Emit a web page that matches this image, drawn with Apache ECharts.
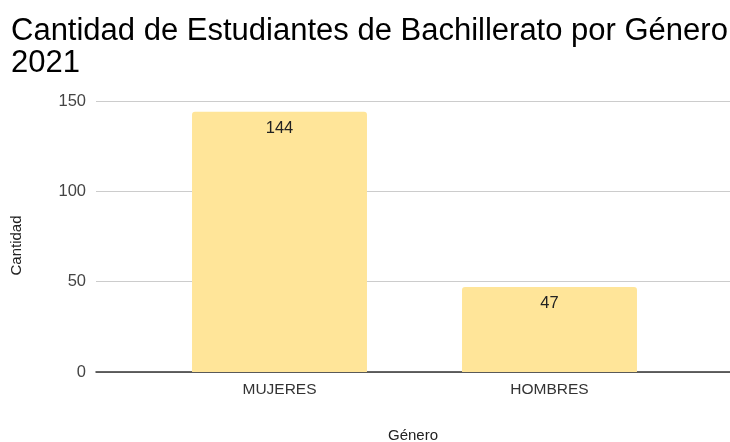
<!DOCTYPE html>
<html>
<head>
<meta charset="utf-8">
<script src="https://cdn.jsdelivr.net/npm/echarts@6/dist/echarts.min.js"></script>
<style>
  html, body { margin: 0; padding: 0; background: #fff; }
  #chart { width: 730px; height: 442px; }
</style>
</head>
<body>
<div id="chart"></div>
<script>
// data
var categories = ['MUJERES', 'HOMBRES'];
var cantidad = [144, 47];
var yTicks = [0, 50, 100, 150];

var chart = echarts.init(document.getElementById('chart'));

var font = 'Arial, "Liberation Sans", sans-serif';

var option = {
    animation: false,
    textStyle: { fontFamily: font },
    title: {
        text: 'Cantidad de Estudiantes de Bachillerato por Género\n2021',
        left: 6,
        top: 10,
        textStyle: {
            fontSize: 31,
            fontWeight: 'normal',
            color: '#000',
            lineHeight: 32,
            fontFamily: font
        }
    },
    grid: [
        // grid lines + axis line, full width
        { left: 96, right: 0, top: 101, bottom: 70, outerBoundsMode: 'none' },
        // bars
        { left: 144.5, right: 45.5, top: 101, bottom: 70, outerBoundsMode: 'none' }
    ],
    xAxis: [{
        gridIndex: 0,
        type: 'category',
        data: categories,
        name: 'Género',
        nameLocation: 'middle',
        nameGap: 56,
        nameTextStyle: { fontSize: 15, color: '#222' },
        axisLine: { lineStyle: { color: '#333', width: 1.5 } },
        axisTick: { show: false },
        axisLabel: { show: false }
    }, {
        gridIndex: 1,
        type: 'category',
        data: categories,
        axisLine: { show: false },
        axisTick: { show: false },
        axisLabel: { fontSize: 15.5, color: '#333', margin: 10 }
    }],
    yAxis: [{
        gridIndex: 0,
        type: 'value',
        min: yTicks[0],
        max: yTicks[yTicks.length - 1],
        interval: 50,
        name: 'Cantidad',
        nameLocation: 'middle',
        nameGap: 72,
        nameTextStyle: { fontSize: 15, color: '#222', padding: [0, 0, 0, -18] },
        axisLine: { show: false },
        axisTick: { show: false },
        axisLabel: { fontSize: 16.5, color: '#444', margin: 10 },
        splitLine: { lineStyle: { color: '#ccc', width: 1 } }
    }, {
        gridIndex: 1,
        type: 'value',
        min: yTicks[0],
        max: yTicks[yTicks.length - 1],
        interval: 50,
        show: false
    }],
    series: [{
        type: 'bar',
        xAxisIndex: 1,
        yAxisIndex: 1,
        data: cantidad,
        barWidth: '64.8%',
        itemStyle: { color: '#FFE599', borderRadius: [3, 3, 0, 0] },
        label: {
            show: true,
            position: 'insideTop',
            distance: 8,
            fontSize: 16.5,
            color: '#222'
        }
    }]
};

chart.setOption(option);
</script>
</body>
</html>
